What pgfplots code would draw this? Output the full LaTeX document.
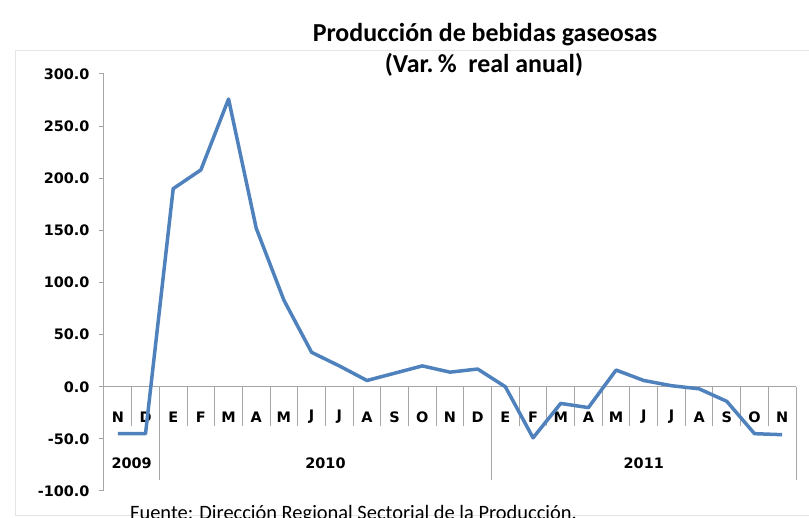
\documentclass[border=0pt]{standalone}
\usepackage{pgfplots}
\pgfplotsset{compat=1.18}
\usepackage{fontspec}
\setmainfont{Carlito}
\newfontfamily\dejavu{DejaVu Sans}
\definecolor{lineblue}{HTML}{4F81BD}
\definecolor{axgray}{HTML}{A6A6A6}
\newcommand{\tfont}{\dejavu\fontsize{14.5}{16}\selectfont\bfseries}
\begin{document}
\begin{tikzpicture}
\useasboundingbox (-104bp,-27bp) rectangle (705bp,491bp);
\draw[black!10, line width=0.8bp] (-89bp,-24bp) -- (-89bp,441bp) -- (710bp,441bp);
\draw[black!10, line width=0.8bp] (-89bp,-24bp) -- (710bp,-24bp);
\begin{axis}[
  at={(0,0)}, anchor=south west,
  scale only axis, width=692bp, height=417bp,
  xmin=-0.5, xmax=24.5, ymin=-100, ymax=300,
  axis x line=none, axis y line=left,
  y axis line style={axgray, line width=1bp, -},
  ytick={-100,-50,...,300},
  xtick=\empty,
  tick align=outside,
  major tick length=5bp,
  ytick style={axgray, line width=1bp},
  /pgf/number format/assume math mode=true,
  yticklabel={\pgfmathprintnumber[fixed, fixed zerofill, precision=1]{\tick}},
  yticklabel style={font=\tfont, xshift=-6bp},
  clip=false,
]
\draw[axgray, line width=1bp] (axis cs:-0.5,0) -- (axis cs:24.5,0);
\foreach \k in {0.5,2.5,3.5,4.5,5.5,6.5,7.5,8.5,9.5,10.5,11.5,12.5,14.5,15.5,16.5,17.5,18.5,19.5,20.5,21.5,22.5,23.5} {
  \edef\temp{\noexpand\draw[axgray, line width=1bp] (axis cs:\k,0) -- (axis cs:\k,-38);}\temp
}
\foreach \k in {1.5,13.5,24.5} {
  \edef\temp{\noexpand\draw[axgray, line width=1bp] (axis cs:\k,0) -- (axis cs:\k,-89);}\temp
}
\foreach \lab [count=\i from 0] in {N,D,E,F,M,A,M,J,J,A,S,O,N,D,E,F,M,A,M,J,J,A,S,O,N} {
  \edef\temp{\noexpand\node[font=\noexpand\tfont] at (axis cs:\i,-29) {\lab};}\temp
}
\node[font=\tfont] at (axis cs:0.5,-73) {2009};
\node[font=\tfont] at (axis cs:7.5,-73) {2010};
\node[font=\tfont] at (axis cs:19,-73) {2011};
\addplot[lineblue, line width=3.5bp, line join=round, mark=none] coordinates {
(0,-45) (1,-45) (2,190) (3,208) (4,276) (5,152) (6,83) (7,33) (8,20) (9,6) (10,13) (11,20) (12,14) (13,17)
(14,0) (15,-49) (16,-16) (17,-20) (18,16) (19,6) (20,1) (21,-2) (22,-14) (23,-45) (24,-46)
};
\end{axis}
\node[anchor=base, font=\fontsize{26}{30}\selectfont\bfseries] at (381bp,449bp) {Producción de bebidas gaseosas};
\node[anchor=base, font=\fontsize{26}{30}\selectfont\bfseries] at (380bp,418bp) {(Var.\,\%\ \ real anual)};
\node[anchor=base west, inner sep=0pt, font=\fontsize{20.5}{24}\selectfont] at (26bp,-28bp) {Fuente: Dirección Regional Sectorial de la Producción.};
\end{tikzpicture}
\end{document}
